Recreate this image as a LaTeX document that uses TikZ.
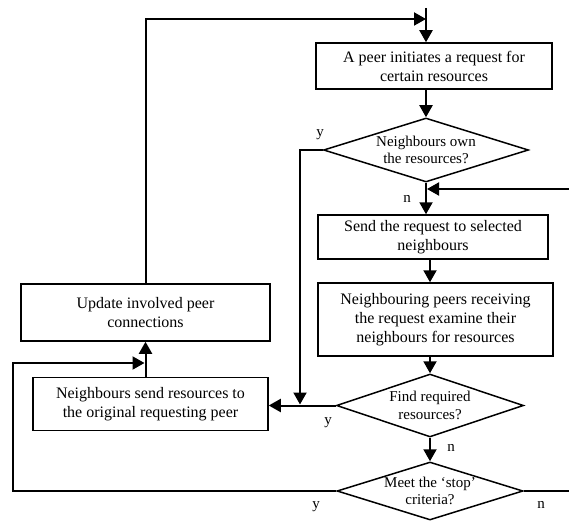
\documentclass[tikz,border=0pt]{standalone}
\usepackage{fontspec}
\setmainfont{Liberation Serif}
\usetikzlibrary{arrows.meta,shapes.geometric}
\begin{document}
\begin{tikzpicture}[x=1pt,y=-1pt,
  box/.style={draw,line width=1.5pt,rectangle,inner sep=0pt,align=center,font=\fontsize{16}{19}\selectfont},
  dec/.style={draw,line width=1.5pt,diamond,shape aspect=3,inner xsep=-14pt,inner ysep=-12pt,align=center,font=\fontsize{15}{17.5}\selectfont},
  conn/.style={line width=2pt},
  arr/.style={conn,-{Triangle[length=12pt,width=13pt]}},
  lab/.style={font=\fontsize{15}{17}\selectfont,inner sep=0pt}]
\useasboundingbox (0,0) rectangle (569,521);
% boxes
\node[box,minimum width=236pt,minimum height=46pt] (b1) at (434,66) {A peer initiates a request for\\certain resources};
\node[box,minimum width=230pt,minimum height=44pt] (b2) at (433,237) {Send the request to selected\\neighbours};
\node[box,minimum width=235pt,minimum height=73pt] (b3) at (435.5,319.5) {Neighbouring peers receiving\\the request examine their\\neighbours for resources};
\node[box,minimum width=249pt,minimum height=57pt] (up) at (145.5,312.5) {Update involved peer\\connections};
\node[box,minimum width=235pt,minimum height=53pt] (nb) at (150.5,404) {Neighbours send resources to\\the original requesting peer};
% decisions
\node[dec,minimum width=205pt,minimum height=64pt] (d1) at (426,150) {Neighbours own\\the resources?};
\node[dec,minimum width=187pt,minimum height=63pt] (d2) at (430,405.5) {Find required\\resources?};
\node[dec,minimum width=186pt,minimum height=58pt] (d3) at (430,491) {Meet the ‘stop’\\criteria?};
% helper coordinates
\coordinate (ts) at (426,8);
\coordinate (tc) at (426,19);
\coordinate (ri) at (569,189);
\coordinate (cx) at (430,0);
\coordinate (jx) at (300,150);
\coordinate (lc) at (13,363);
\coordinate (ro) at (569,491);
% connectors
\draw[arr] (up.north) |- (tc);
\draw[arr] (ts) -- (ts |- b1.north);
\draw[arr] (ts |- b1.south) -- (d1.north);
\draw[arr] (d1.south) -- (d1.south |- b2.north);
\draw[arr,shorten >=1pt] (ri) -- (ri -| d1.south);
\draw[arr] (cx |- b2.south) -- (cx |- b3.north);
\draw[arr] (d2.north |- b3.south) -- (d2.north);
\draw[arr] (d2.south) -- (d3.north);
\draw[arr] (d2.west) -- (d2.west -| nb.east);
\draw[arr,shorten >=1pt] (d1.west) -| (jx |- d2.west);
\draw[arr] (nb.north -| up.south) -- (up.south);
\draw[arr,shorten >=1pt] (d3.west) -| (lc) -- (lc -| up.south);
\draw[conn] (d3.east) -- (ro);
% labels
\node[lab] (ly1) at (320,135) {y};
\node[lab] (ln1) at (407,199) {n};
\node[lab] (ly2) at (328,423) {y};
\node[lab] (ln2) at (451,448) {n};
\node[lab] (ly3) at (316,507) {y};
\node[lab] (ln3) at (541,505) {n};
\end{tikzpicture}
\end{document}
